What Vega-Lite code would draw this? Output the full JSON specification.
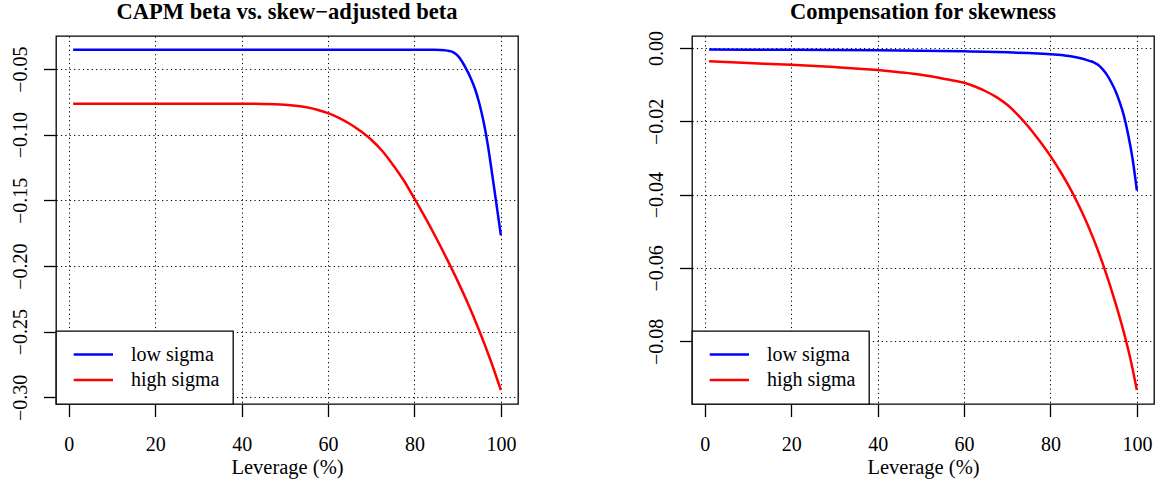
{
  "$schema": "https://vega.github.io/schema/vega-lite/v6.json",
  "background": "white",
  "padding": {"left": 5, "top": 0, "right": 5, "bottom": 0},
  "autosize": {"type": "pad"},
  "spacing": 122,
  "datasets": {
    "capm": [
      {"series": "low sigma", "leverage": 1, "value": -0.0352},
      {"series": "low sigma", "leverage": 10, "value": -0.0352},
      {"series": "low sigma", "leverage": 20, "value": -0.0352},
      {"series": "low sigma", "leverage": 30, "value": -0.0352},
      {"series": "low sigma", "leverage": 40, "value": -0.0352},
      {"series": "low sigma", "leverage": 50, "value": -0.0352},
      {"series": "low sigma", "leverage": 60, "value": -0.0352},
      {"series": "low sigma", "leverage": 70, "value": -0.0352},
      {"series": "low sigma", "leverage": 80, "value": -0.0352},
      {"series": "low sigma", "leverage": 84, "value": -0.0353},
      {"series": "low sigma", "leverage": 86, "value": -0.0354},
      {"series": "low sigma", "leverage": 87, "value": -0.0357},
      {"series": "low sigma", "leverage": 88, "value": -0.0362},
      {"series": "low sigma", "leverage": 89, "value": -0.0372},
      {"series": "low sigma", "leverage": 90, "value": -0.0398},
      {"series": "low sigma", "leverage": 91, "value": -0.0442},
      {"series": "low sigma", "leverage": 92, "value": -0.0500},
      {"series": "low sigma", "leverage": 93, "value": -0.0567},
      {"series": "low sigma", "leverage": 94, "value": -0.0650},
      {"series": "low sigma", "leverage": 95, "value": -0.0760},
      {"series": "low sigma", "leverage": 96, "value": -0.0902},
      {"series": "low sigma", "leverage": 97, "value": -0.1083},
      {"series": "low sigma", "leverage": 98, "value": -0.1305},
      {"series": "low sigma", "leverage": 99, "value": -0.1535},
      {"series": "low sigma", "leverage": 100, "value": -0.1767},
      {"series": "high sigma", "leverage": 1, "value": -0.0764},
      {"series": "high sigma", "leverage": 10, "value": -0.0764},
      {"series": "high sigma", "leverage": 20, "value": -0.0764},
      {"series": "high sigma", "leverage": 30, "value": -0.0764},
      {"series": "high sigma", "leverage": 40, "value": -0.0764},
      {"series": "high sigma", "leverage": 45, "value": -0.0765},
      {"series": "high sigma", "leverage": 50, "value": -0.0771},
      {"series": "high sigma", "leverage": 52.5, "value": -0.0779},
      {"series": "high sigma", "leverage": 55, "value": -0.0791},
      {"series": "high sigma", "leverage": 57.5, "value": -0.0810},
      {"series": "high sigma", "leverage": 60, "value": -0.0836},
      {"series": "high sigma", "leverage": 62.5, "value": -0.0871},
      {"series": "high sigma", "leverage": 65, "value": -0.0916},
      {"series": "high sigma", "leverage": 67.5, "value": -0.0972},
      {"series": "high sigma", "leverage": 70, "value": -0.1038},
      {"series": "high sigma", "leverage": 72.5, "value": -0.1122},
      {"series": "high sigma", "leverage": 75, "value": -0.1228},
      {"series": "high sigma", "leverage": 77.5, "value": -0.1347},
      {"series": "high sigma", "leverage": 80, "value": -0.1487},
      {"series": "high sigma", "leverage": 82.5, "value": -0.1632},
      {"series": "high sigma", "leverage": 85, "value": -0.1785},
      {"series": "high sigma", "leverage": 87.5, "value": -0.1946},
      {"series": "high sigma", "leverage": 90, "value": -0.2115},
      {"series": "high sigma", "leverage": 92.5, "value": -0.2295},
      {"series": "high sigma", "leverage": 95, "value": -0.2493},
      {"series": "high sigma", "leverage": 97.5, "value": -0.2708},
      {"series": "high sigma", "leverage": 100, "value": -0.2945}
    ],
    "comp": [
      {"series": "low sigma", "leverage": 1, "value": -0.00044},
      {"series": "low sigma", "leverage": 10, "value": -0.00047},
      {"series": "low sigma", "leverage": 20, "value": -0.00051},
      {"series": "low sigma", "leverage": 30, "value": -0.00057},
      {"series": "low sigma", "leverage": 40, "value": -0.00064},
      {"series": "low sigma", "leverage": 50, "value": -0.00074},
      {"series": "low sigma", "leverage": 60, "value": -0.0009},
      {"series": "low sigma", "leverage": 65, "value": -0.00102},
      {"series": "low sigma", "leverage": 70, "value": -0.00118},
      {"series": "low sigma", "leverage": 75, "value": -0.0014},
      {"series": "low sigma", "leverage": 80, "value": -0.0017},
      {"series": "low sigma", "leverage": 83, "value": -0.0020},
      {"series": "low sigma", "leverage": 85, "value": -0.0023},
      {"series": "low sigma", "leverage": 87, "value": -0.0028},
      {"series": "low sigma", "leverage": 88, "value": -0.0031},
      {"series": "low sigma", "leverage": 89, "value": -0.0035},
      {"series": "low sigma", "leverage": 90, "value": -0.0039},
      {"series": "low sigma", "leverage": 91, "value": -0.0046},
      {"series": "low sigma", "leverage": 92, "value": -0.0057},
      {"series": "low sigma", "leverage": 93, "value": -0.0072},
      {"series": "low sigma", "leverage": 94, "value": -0.0092},
      {"series": "low sigma", "leverage": 95, "value": -0.0116},
      {"series": "low sigma", "leverage": 96, "value": -0.0147},
      {"series": "low sigma", "leverage": 97, "value": -0.0185},
      {"series": "low sigma", "leverage": 98, "value": -0.0237},
      {"series": "low sigma", "leverage": 99, "value": -0.0302},
      {"series": "low sigma", "leverage": 100, "value": -0.0389},
      {"series": "high sigma", "leverage": 1, "value": -0.00363},
      {"series": "high sigma", "leverage": 10, "value": -0.0041},
      {"series": "high sigma", "leverage": 20, "value": -0.0046},
      {"series": "high sigma", "leverage": 30, "value": -0.0052},
      {"series": "high sigma", "leverage": 40, "value": -0.0060},
      {"series": "high sigma", "leverage": 45, "value": -0.0066},
      {"series": "high sigma", "leverage": 50, "value": -0.0073},
      {"series": "high sigma", "leverage": 55, "value": -0.0083},
      {"series": "high sigma", "leverage": 60, "value": -0.0095},
      {"series": "high sigma", "leverage": 62.5, "value": -0.0105},
      {"series": "high sigma", "leverage": 65, "value": -0.0118},
      {"series": "high sigma", "leverage": 67.5, "value": -0.0134},
      {"series": "high sigma", "leverage": 70, "value": -0.0155},
      {"series": "high sigma", "leverage": 72.5, "value": -0.0183},
      {"series": "high sigma", "leverage": 75, "value": -0.0216},
      {"series": "high sigma", "leverage": 77.5, "value": -0.0254},
      {"series": "high sigma", "leverage": 80, "value": -0.0295},
      {"series": "high sigma", "leverage": 82.5, "value": -0.0341},
      {"series": "high sigma", "leverage": 85, "value": -0.0393},
      {"series": "high sigma", "leverage": 87.5, "value": -0.0453},
      {"series": "high sigma", "leverage": 90, "value": -0.0522},
      {"series": "high sigma", "leverage": 92.5, "value": -0.0602},
      {"series": "high sigma", "leverage": 95, "value": -0.0694},
      {"series": "high sigma", "leverage": 97.5, "value": -0.0799},
      {"series": "high sigma", "leverage": 98.75, "value": -0.0861},
      {"series": "high sigma", "leverage": 100, "value": -0.0933}
    ]
  },
  "hconcat": [
    {
      "width": 462,
      "height": 368,
      "title": {"text": "CAPM beta vs. skew−adjusted beta", "offset": 12.5},
      "data": {"name": "capm"},
      "mark": {"type": "line", "strokeWidth": 2.5, "interpolate": "monotone"},
      "encoding": {
        "x": {
          "field": "leverage", "type": "quantitative",
          "scale": {"domain": [-2.96, 103.96], "nice": false, "zero": false},
          "axis": {"values": [0, 20, 40, 60, 80, 100], "format": "d", "title": "Leverage (%)"}
        },
        "y": {
          "field": "value", "type": "quantitative",
          "scale": {"domain": [-0.3051, -0.0248], "nice": false, "zero": false},
          "axis": {"values": [-0.30, -0.25, -0.20, -0.15, -0.10, -0.05], "format": ".2f", "title": null}
        },
        "color": {
          "field": "series", "type": "nominal",
          "scale": {"domain": ["low sigma", "high sigma"], "range": ["#0000ff", "#ff0000"]},
          "legend": {"title": null}
        }
      }
    },
    {
      "width": 462,
      "height": 368,
      "title": {"text": "Compensation for skewness", "offset": 7},
      "data": {"name": "comp"},
      "mark": {"type": "line", "strokeWidth": 2.5, "interpolate": "monotone"},
      "encoding": {
        "x": {
          "field": "leverage", "type": "quantitative",
          "scale": {"domain": [-2.96, 103.96], "nice": false, "zero": false},
          "axis": {"values": [0, 20, 40, 60, 80, 100], "format": "d", "title": "Leverage (%)"}
        },
        "y": {
          "field": "value", "type": "quantitative",
          "scale": {"domain": [-0.0971, 0.00327], "nice": false, "zero": false},
          "axis": {"values": [-0.08, -0.06, -0.04, -0.02, 0], "format": ".2f", "title": null}
        },
        "color": {
          "field": "series", "type": "nominal",
          "scale": {"domain": ["low sigma", "high sigma"], "range": ["#0000ff", "#ff0000"]},
          "legend": {"title": null}
        }
      }
    }
  ],
  "resolve": {
    "scale": {"x": "independent", "y": "independent", "color": "independent"},
    "legend": {"color": "independent"},
    "axis": {"x": "independent", "y": "independent"}
  },
  "config": {
    "view": {"stroke": "black", "strokeWidth": 1.3},
    "title": {
      "font": "Liberation Serif", "fontSize": 22.5, "fontWeight": "bold", "color": "black",
      "baseline": "alphabetic", "frame": "group", "anchor": "middle"
    },
    "axis": {
      "domain": false,
      "grid": true, "gridColor": "black", "gridDash": [1.2, 3.2], "gridWidth": 1, "gridOpacity": 1,
      "ticks": true, "tickColor": "black", "tickSize": 12.5, "tickWidth": 1.3,
      "labelFont": "Liberation Serif", "labelFontSize": 20, "labelColor": "black",
      "labelOverlap": false, "labelFlush": false,
      "titleFont": "Liberation Serif", "titleFontSize": 20.5, "titleFontWeight": "normal", "titleColor": "black"
    },
    "axisX": {
      "labelBaseline": "alphabetic", "labelPadding": 33.5,
      "titleY": 69.8, "titleBaseline": "alphabetic"
    },
    "axisY": {
      "labelAngle": 270, "labelAlign": "center", "labelBaseline": "alphabetic",
      "labelPadding": 17, "minExtent": 50, "maxExtent": 50
    },
    "legend": {
      "orient": "bottom-left", "offset": 0, "padding": 13.5,
      "strokeColor": "black", "strokeWidth": 1.3, "fillColor": "white", "cornerRadius": 0,
      "labelFont": "Liberation Serif", "labelFontSize": 20, "labelColor": "black",
      "symbolType": "M-3,0H3", "symbolSize": 171.6, "symbolStrokeWidth": 2.5,
      "symbolOffset": 13.85, "labelOffset": 27.65, "rowPadding": 5.5
    }
  }
}
